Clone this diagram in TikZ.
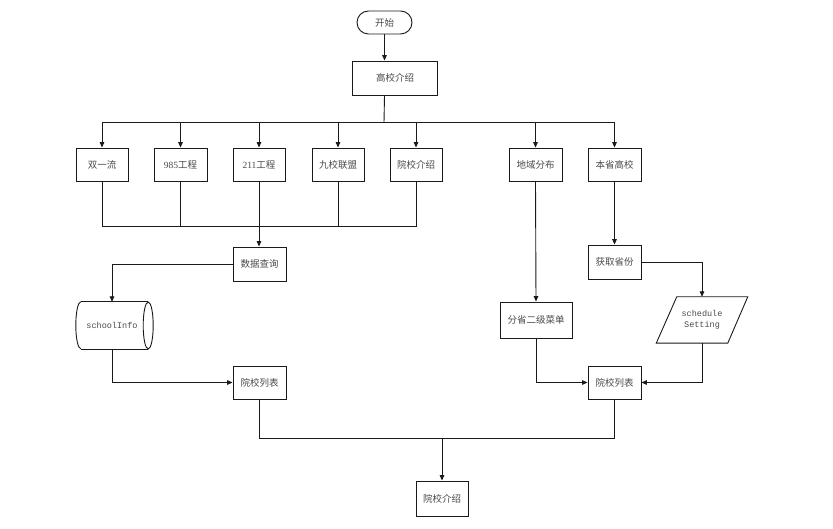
\documentclass[tikz,border=0pt]{standalone}
\usepackage{fontspec}
\setmainfont{Liberation Serif}
\setmonofont{Liberation Mono}
\newfontfamily\cjk{Noto Sans CJK SC}
\usetikzlibrary{arrows.meta}
\definecolor{linec}{HTML}{1A1A1A}
\definecolor{txt}{HTML}{4A4A4A}
\tikzset{
  ln/.style={draw=linec, line width=0.9pt},
  arr/.style={ln, -{Triangle[length=5.5pt,width=4.6pt]}},
  box/.style={ln, rectangle, minimum width=53pt, minimum height=33pt, inner sep=0pt, text=txt, font=\cjk\fontsize{9.5}{11}\selectfont},
  ghost/.style={rectangle, inner sep=0pt, text=txt, font=\ttfamily\fontsize{8.5}{11}\selectfont, align=center}
}
\begin{document}
\begin{tikzpicture}[x=1pt,y=-1pt]
\useasboundingbox[fill=white] (0,0) rectangle (833,529);
% nodes
\node[box, rounded corners=11.5pt, minimum width=55pt, minimum height=23pt] (start) at (384.5,22.5) {开始};
\node[box, minimum width=85pt, minimum height=34pt] (top) at (395,78) {高校介绍};
\node[box, minimum width=52pt] (sy) at (102,164.5) {双一流};
\node[box] (s985) at (180.5,164.5) {{\rmfamily 985}工程};
\node[box, minimum width=52pt] (s211) at (259,164.5) {{\rmfamily 211}工程};
\node[box, minimum width=52pt] (s9) at (338,164.5) {九校联盟};
\node[box, minimum width=52pt] (syj) at (416,164.5) {院校介绍};
\node[box] (sd) at (535.5,164.5) {地域分布};
\node[box] (sb) at (614.5,164.5) {本省高校};
\node[box, minimum height=34pt] (sj) at (259.5,264) {数据查询};
\node[ghost, minimum width=72pt, minimum height=47pt] (si) at (112,325.5) {schoolInfo};
\node[box] (ylL) at (259.5,382.5) {院校列表};
\node[box, minimum width=72pt, minimum height=36pt] (fs) at (536,320) {分省二级菜单};
\node[box, minimum height=34pt] (hq) at (614.5,262) {获取省份};
\node[ghost, minimum width=72pt, minimum height=46pt] (ss) at (702,320) {schedule\\Setting};
\node[box] (ylR) at (614.5,382.5) {院校列表};
\node[box, minimum width=52pt, minimum height=35pt] (fin) at (442,498.5) {院校介绍};
\coordinate (bus) at (384,122.5);
\coordinate (bus2) at (259,226);
\coordinate (bus3) at (442,438);
% cylinder shape
\draw[ln] ([xshift=5pt]si.north west) -- (si.north east);
\draw[ln] ([xshift=5pt]si.south west) -- (si.south east);
\draw[ln] ([xshift=5pt]si.north west) arc[start angle=90,end angle=270,x radius=5pt,y radius=23.5pt];
\draw[ln] (si.east) ellipse[x radius=5pt,y radius=23.5pt];
% parallelogram
\draw[ln] ([xshift=-25.25pt]ss.north) -- ([xshift=45.75pt]ss.north) -- ([xshift=25.75pt]ss.south) -- ([xshift=-45.75pt]ss.south) -- cycle;
% connectors
\draw[arr] (start.south) -- (start.south |- top.north);
\draw[ln] (start.south |- top.south) -- (bus);
\draw[ln] (sy.north |- bus) -- (sb.north |- bus);
\foreach \n in {sy,s985,s211,s9,syj,sd,sb} {\draw[arr] (\n.north |- bus) -- (\n.north);}
\draw[ln] (sy.south) -- (sy.south |- bus2) -- (syj.south |- bus2) -- (syj.south);
\draw[ln] (s985.south) -- (s985.south |- bus2);
\draw[ln] (s9.south) -- (s9.south |- bus2);
\draw[arr] (s211.south) -- (s211.south |- sj.north);
\draw[arr] (sj.west) -| (si.north);
\draw[arr] (si.south) |- (ylL.west);
\draw[arr] (sd.south) -- (fs.north);
\draw[arr] (sb.south) -- (hq.north);
\draw[arr] (hq.east) -| (ss.north);
\draw[arr] (ss.south) |- (ylR.east);
\draw[arr] (fs.south) |- (ylR.west);
\draw[ln] (ylL.south) -- (ylL.south |- bus3) -- (ylR.south |- bus3) -- (ylR.south);
\draw[arr] (bus3) -- (fin.north);
\end{tikzpicture}
\end{document}
